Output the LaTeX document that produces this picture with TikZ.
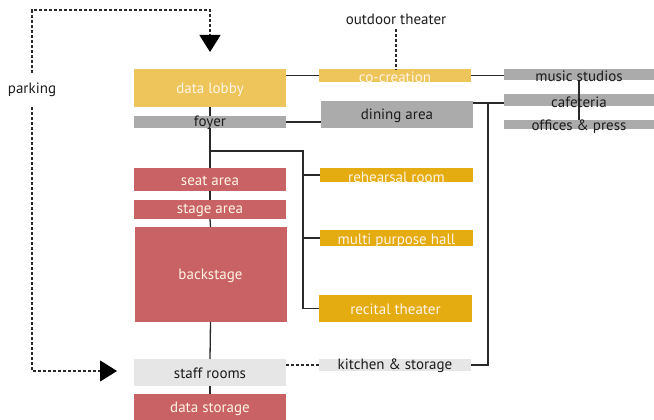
\documentclass[tikz,border=0pt]{standalone}
\usepackage{fontspec}
\setmainfont{PT Sans}
\usetikzlibrary{arrows.meta,calc}
\definecolor{lgold}{HTML}{EEC55A}
\definecolor{dgold}{HTML}{E5AC12}
\definecolor{mgray}{HTML}{ABABAB}
\definecolor{rosered}{HTML}{C86264}
\definecolor{lgray}{HTML}{E6E6E6}
\definecolor{cream}{HTML}{FFF4E6}
\definecolor{ink}{HTML}{1C1C1C}
\definecolor{wire}{HTML}{2A2A2A}
\tikzset{
  room/.style={rectangle, inner sep=0pt, outer sep=0pt, draw=none},
  rtxt/.style={font=\fontsize{15}{15}\selectfont, inner sep=0pt, yshift=-1pt},
  wtxt/.style={rtxt, text=cream},
  btxt/.style={rtxt, text=ink},
  wire/.style={draw=wire, line width=1.3pt},
  dwire/.style={draw=wire, line width=1.2pt, dash pattern=on 3pt off 2pt},
  bigtip/.style={-{Triangle[length=17pt,width=21pt,fill=black,color=black]}, shorten >=17pt},
}
\begin{document}
\begin{tikzpicture}[x=1pt,y=-1pt]
\useasboundingbox (0,0) rectangle (654,420);
% left column
\node[room, fill=lgold, minimum width=152pt, minimum height=38pt, label={[wtxt, yshift=-1pt]center:data lobby}] (lobby) at (210,88) {};
\node[room, fill=mgray, minimum width=152pt, minimum height=12pt, label={[btxt]center:foyer}] (foyer) at (210,122) {};
\node[room, fill=rosered, minimum width=152pt, minimum height=23pt, label={[wtxt]center:seat area}] (seat) at (210,179.5) {};
\node[room, fill=rosered, minimum width=152pt, minimum height=19pt, label={[wtxt]center:stage area}] (stage) at (210,209.5) {};
\node[room, fill=rosered, minimum width=152pt, minimum height=95pt, label={[wtxt]center:backstage}] (back) at (210.5,274.5) {};
\node[room, fill=lgray, minimum width=152pt, minimum height=27pt, label={[btxt]center:staff rooms}] (staff) at (210,372.5) {};
\node[room, fill=rosered, minimum width=152pt, minimum height=26pt, label={[wtxt, yshift=-1pt]center:data storage}] (dstore) at (210,407) {};
% middle column
\node[room, fill=lgold, minimum width=152pt, minimum height=13pt, label={[wtxt, yshift=-1pt]center:co-creation}] (cocre) at (395,75.5) {};
\node[room, fill=mgray, minimum width=152pt, minimum height=27pt, label={[btxt]center:dining area}] (dining) at (397,114.5) {};
\node[room, fill=dgold, minimum width=153pt, minimum height=14pt, label={[wtxt, yshift=-1pt]center:rehearsal room}] (rehe) at (396.5,175) {};
\node[room, fill=dgold, minimum width=153pt, minimum height=16pt, label={[wtxt, yshift=-2pt]center:multi purpose hall}] (multi) at (396.5,238) {};
\node[room, fill=dgold, minimum width=153pt, minimum height=27pt, label={[wtxt]center:recital theater}] (recital) at (395.5,308.5) {};
\node[room, fill=lgray, minimum width=152pt, minimum height=12pt, label={[btxt]center:kitchen \& storage}] (kitchen) at (395,365) {};
% right column
\node[room, fill=mgray, minimum width=150pt, minimum height=11pt] (music) at (579,74.5) {};
\node[room, fill=mgray, minimum width=150pt, minimum height=12pt] (cafe) at (579,100) {};
\node[room, fill=mgray, minimum width=150pt, minimum height=9pt] (offices) at (579,124.5) {};
\draw[wire] (music.south) -- (offices.north);
\node[btxt] (musict) at (579,75) {music studios};
\node[btxt] (cafet) at (579,101) {cafeteria};
\node[btxt] (officest) at (579,125.5) {offices \& press};
% free labels
\node[btxt, inner sep=4pt] (outdoor) at (396,18) {outdoor theater};
\node[btxt, inner xsep=2pt, inner ysep=10pt] (parking) at (32,89) {parking};
% connectors
\draw[wire] (lobby.east |- cocre) -- (cocre.west);
\draw[wire] (cocre.east) -- (cocre.east -| music.west);
\draw[wire] (foyer.east) -- (foyer.east -| dining.west);
\coordinate (dr) at ($(dining.north east)+(0,2)$);
\coordinate (kc) at (488,103);
\draw[wire] (dr) -- (dr -| cafe.west);
\draw[wire] (kitchen.east) -| (kc);
\draw[wire] (lobby.south) -- (foyer.north);
\draw[wire] (foyer.south) -- (seat.north);
\coordinate (br) at (210,151);
\coordinate (bx) at (303,151);
\draw[wire] (br) -- (bx) |- (recital.west);
\draw[wire] (bx |- rehe) -- (rehe.west);
\draw[wire] (bx |- multi) -- (multi.west);
\draw[wire] (seat.south) -- (stage.north);
\draw[wire] (stage.south) -- (back.north);
\draw[wire] (back.south) -- (staff.north);
\draw[wire] (staff.south) -- (dstore.north);
\draw[dwire] (staff.east |- kitchen) -- (kitchen.west);
\draw[dwire] (outdoor.south) -- (outdoor.south |- cocre.north);
\coordinate (ptop) at (32,10);
\draw[dwire, bigtip] (parking.north) -- (ptop) -| (lobby.north);
\draw[dwire, bigtip] (parking.south) |- ($(staff.west)+(0,-1.5)$);
\end{tikzpicture}
\end{document}
